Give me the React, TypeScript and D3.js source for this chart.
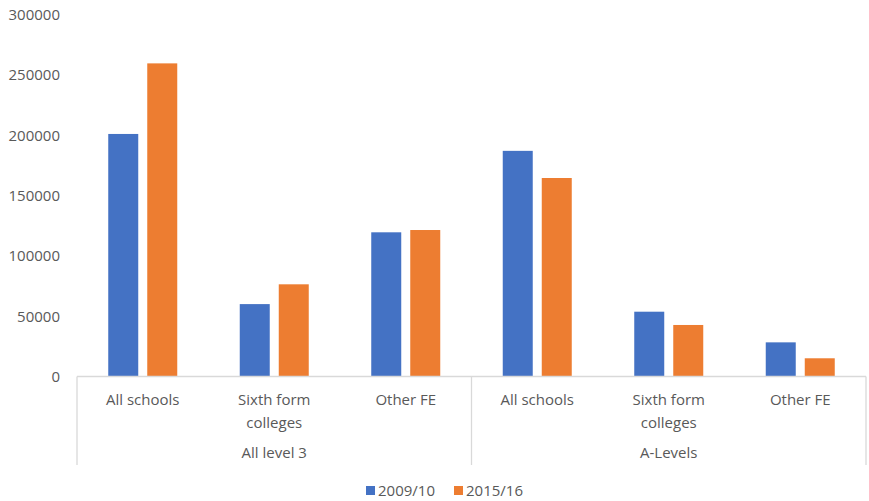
import React from "react";
import * as d3 from "d3";

const categories = ["All schools", "Sixth form colleges", "Other FE", "All schools", "Sixth form colleges", "Other FE"];
const groups = ["All level 3", "A-Levels"];
const seriesNames = ["2009/10", "2015/16"];
const values2009 = [201000, 60000, 119500, 187000, 53700, 28300];
const values2015 = [259500, 76400, 121400, 164500, 42700, 15100];
const yTicks = [0, 50000, 100000, 150000, 200000, 250000, 300000];
const colors = ["#4472C4", "#ED7D31"];

const W = 869;
const H = 501;
const left = 77;
const right = 866;
const axisY = 376.5;
const topY = 14.5;
const sepBottom = 465;
const font = "'Open Sans', sans-serif";
const textColor = "#595959";
const lineColor = "#d9d9d9";

export default function App() {
  const y = d3.scaleLinear().domain([0, 300000]).range([axisY, topY]);
  const x = d3.scaleBand<number>().domain(d3.range(categories.length)).range([left, right]).padding(0);
  const groupW = 69;
  const inner = d3.scaleBand<number>().domain([0, 1]).range([-groupW / 2, groupW / 2]).paddingInner(0.231).paddingOuter(0);
  const series = [values2009, values2015];
  const groupX = d3.scaleBand<number>().domain([0, 1]).range([left, right]);

  return (
    <svg width={W} height={H} style={{ position: "absolute", left: 0, top: 0, background: "#fff" }} fontFamily={font}>
      {yTicks.map((t) => (
        <text key={t} x={60} y={y(t)} dy="0.36em" textAnchor="end" fontSize={15} fill={textColor}>
          {t}
        </text>
      ))}
      {series.map((vals, si) =>
        vals.map((v, ci) => {
          const cx = (x(ci) as number) + x.bandwidth() / 2;
          return (
            <rect
              key={`${si}-${ci}`}
              x={cx + (inner(si) as number)}
              y={y(v)}
              width={inner.bandwidth()}
              height={axisY - y(v)}
              fill={colors[si]}
            />
          );
        })
      )}
      <line x1={left} x2={right} y1={axisY} y2={axisY} stroke={lineColor} strokeWidth={1.3} />
      {[left, (groupX(1) as number), right].map((lx, i) => (
        <line key={i} x1={lx} x2={lx} y1={axisY} y2={sepBottom} stroke={lineColor} strokeWidth={1.3} />
      ))}
      {categories.map((c, ci) => {
        const cx = (x(ci) as number) + x.bandwidth() / 2;
        const parts = c === "Sixth form colleges" ? ["Sixth form", "colleges"] : [c];
        return parts.map((p, pi) => (
          <text key={`${ci}-${pi}`} x={cx} y={400 + pi * 23} dy="0.36em" textAnchor="middle" fontSize={15} fill={textColor}>
            {p}
          </text>
        ));
      })}
      {groups.map((g, gi) => (
        <text key={g} x={(groupX(gi) as number) + groupX.bandwidth() / 2} y={453} dy="0.36em" textAnchor="middle" fontSize={15} fill={textColor}>
          {g}
        </text>
      ))}
      {seriesNames.map((s, si) => {
        const lx = 366 + si * 88;
        return (
          <g key={s}>
            <rect x={lx} y={486} width={9} height={9} fill={colors[si]} />
            <text x={lx + 12} y={491} dy="0.36em" fontSize={15} fill={textColor}>
              {s}
            </text>
          </g>
        );
      })}
    </svg>
  );
}
